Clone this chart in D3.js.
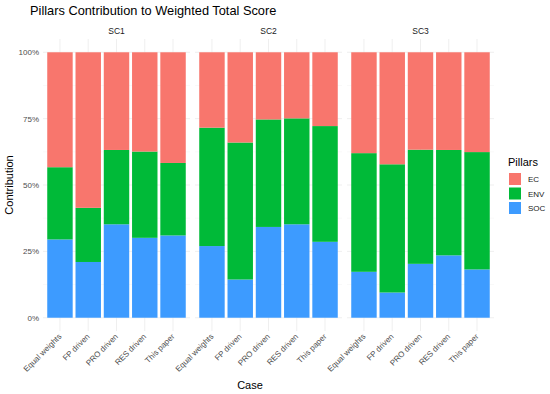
<!DOCTYPE html>
<html>
<head>
<meta charset="utf-8">
<script src="https://cdn.jsdelivr.net/npm/d3@7"></script>
<style>
  body { margin: 0; background: #fff; }
  text { font-family: "Liberation Sans", Arial, sans-serif; }
</style>
</head>
<body>
<svg id="chart" width="550" height="394"></svg>
<script>
// data
var scenarios = ["SC1", "SC2", "SC3"];
var cases = ["Equal weights", "FP driven", "PRO driven", "RES driven", "This paper"];
var pillars = ["EC", "ENV", "SOC"];
var socVals = [
  [0.295, 0.210, 0.352, 0.301, 0.310],
  [0.270, 0.144, 0.342, 0.352, 0.286],
  [0.173, 0.095, 0.203, 0.235, 0.182]
];
var envVals = [
  [0.272, 0.204, 0.280, 0.325, 0.273],
  [0.446, 0.516, 0.405, 0.399, 0.436],
  [0.447, 0.483, 0.430, 0.397, 0.442]
];
var yTicks = [0, 0.25, 0.5, 0.75, 1];
var colors = {EC: "#F8766D", ENV: "#00BA38", SOC: "#3D9BFF"};

var svg = d3.select("#chart");

var panelW = 147, gap = 5, left0 = 43;
var panelTop = 39, panelBottom = 331;

var y = d3.scaleLinear()
  .domain([-0.05, 1.05])
  .range([panelBottom, panelTop]);

var stack = d3.stack().keys(["SOC", "ENV", "EC"]);

// title
svg.append("text")
  .attr("x", 30).attr("y", 15)
  .style("font-size", "12.8px")
  .attr("fill", "#000")
  .text("Pillars Contribution to Weighted Total Score");

// y axis labels
svg.append("g").selectAll("text")
  .data(yTicks)
  .join("text")
  .attr("x", 39)
  .attr("y", function(d) { return y(d) + 3; })
  .attr("text-anchor", "end")
  .style("font-size", "8px")
  .attr("fill", "#4D4D4D")
  .text(d3.format(".0%"));

svg.append("text")
  .attr("transform", "translate(13," + ((panelTop + panelBottom) / 2) + ") rotate(-90)")
  .attr("text-anchor", "middle")
  .style("font-size", "11px")
  .text("Contribution");

scenarios.forEach(function(sc, k) {
  var x0 = left0 + k * (panelW + gap);
  var x = d3.scalePoint()
    .domain(cases)
    .range([x0, x0 + panelW])
    .padding(0.6);
  var bw = x.step() * 0.9;

  var rows = cases.map(function(c, i) {
    var s = socVals[k][i], e = envVals[k][i];
    return {case: c, SOC: s, ENV: e, EC: 1 - s - e};
  });

  var g = svg.append("g");

  // grid
  var minor = [0.125, 0.375, 0.625, 0.875];
  g.selectAll(".minor")
    .data(minor)
    .join("line")
    .attr("x1", x0).attr("x2", x0 + panelW)
    .attr("y1", function(d) { return y(d); })
    .attr("y2", function(d) { return y(d); })
    .attr("stroke", "#F2F2F2").attr("stroke-width", 0.5);
  g.selectAll(".hgrid")
    .data(yTicks)
    .join("line")
    .attr("x1", x0).attr("x2", x0 + panelW)
    .attr("y1", function(d) { return y(d); })
    .attr("y2", function(d) { return y(d); })
    .attr("stroke", "#EBEBEB").attr("stroke-width", 0.8);
  g.selectAll(".vgrid")
    .data(cases)
    .join("line")
    .attr("x1", function(d) { return x(d); })
    .attr("x2", function(d) { return x(d); })
    .attr("y1", panelTop).attr("y2", panelBottom)
    .attr("stroke", "#EBEBEB").attr("stroke-width", 0.8);

  // bars
  g.selectAll(".layer")
    .data(stack(rows))
    .join("g")
    .attr("fill", function(d) { return colors[d.key]; })
    .selectAll("rect")
    .data(function(d) { return d; })
    .join("rect")
    .attr("x", function(d) { return x(d.data.case) - bw / 2; })
    .attr("width", bw)
    .attr("y", function(d) { return y(d[1]); })
    .attr("height", function(d) { return y(d[0]) - y(d[1]); });

  // strip
  svg.append("text")
    .attr("x", x0 + panelW / 2)
    .attr("y", 34)
    .attr("text-anchor", "middle")
    .style("font-size", "8.5px")
    .attr("fill", "#1A1A1A")
    .text(sc);

  // x tick labels
  svg.append("g").selectAll("text")
    .data(cases)
    .join("text")
    .attr("transform", function(d) {
      return "translate(" + (x(d) + 2) + "," + (panelBottom + 6) + ") rotate(-45)";
    })
    .attr("text-anchor", "end")
    .style("font-size", "8px")
    .attr("fill", "#4D4D4D")
    .text(function(d) { return d; });
});

svg.append("text")
  .attr("x", 250).attr("y", 389)
  .attr("text-anchor", "middle")
  .style("font-size", "11px")
  .text("Case");

// legend
var leg = svg.append("g").attr("transform", "translate(508,0)");
leg.append("text")
  .attr("x", 0).attr("y", 166)
  .style("font-size", "11px")
  .text("Pillars");
leg.selectAll("rect")
  .data(pillars)
  .join("rect")
  .attr("x", 1)
  .attr("y", function(d, i) { return 173 + i * 14.5; })
  .attr("width", 12).attr("height", 12)
  .attr("fill", function(d) { return colors[d]; });
leg.selectAll(".lab")
  .data(pillars)
  .join("text")
  .attr("x", 20)
  .attr("y", function(d, i) { return 182 + i * 14.5; })
  .style("font-size", "8px")
  .attr("fill", "#1A1A1A")
  .text(function(d) { return d; });
</script>
</body>
</html>
